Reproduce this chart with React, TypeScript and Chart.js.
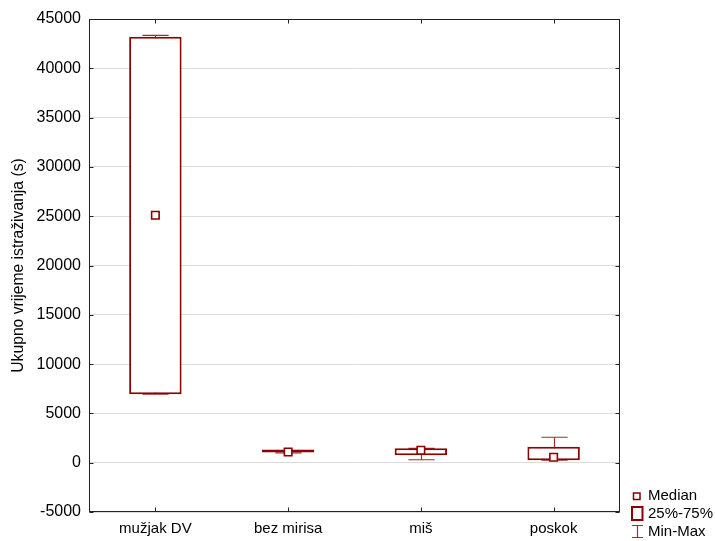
import React, { useEffect, useRef } from 'react';
import { Chart, registerables } from 'chart.js';

Chart.register(...registerables);

const categories = ['mužjak DV', 'bez mirisa', 'miš', 'poskok'];
const minValues = [6950, 1000, 300, 250];
const q1Values = [6950, 1040, 750, 250];
const medianValues = [25100, 1090, 1260, 550];
const q3Values = [43200, 1110, 1460, 1630];
const maxValues = [43330, 1150, 1460, 2580];
const yMin = -5000;
const yMax = 45000;
const yStep = 5000;
const yAxisTitle = 'Ukupno vrijeme istraživanja (s)';
const legendLabels = ['Median', '25%-75%', 'Min-Max'];

const DARK_RED = '#8B0000';
const WHISKER = '#A03030';
const FONT = "'Liberation Sans', Arial, sans-serif";

const whiskerPlugin = {
  id: 'whiskers',
  beforeDatasetsDraw(chart: any) {
    const ctx = chart.ctx;
    const x = chart.scales.x;
    const y = chart.scales.y;
    const barMeta = chart.getDatasetMeta(1);
    ctx.save();
    ctx.strokeStyle = WHISKER;
    ctx.lineWidth = 1.2;
    for (let i = 0; i < categories.length; i++) {
      const cx = Math.round(x.getPixelForValue(i)) + 0.5;
      const bw = barMeta.data[i] ? barMeta.data[i].width : 50;
      const half = bw / 4;
      const yTop = y.getPixelForValue(maxValues[i]);
      const yBot = y.getPixelForValue(minValues[i]);
      ctx.beginPath();
      ctx.moveTo(cx, yTop);
      ctx.lineTo(cx, yBot);
      ctx.moveTo(cx - half, yTop);
      ctx.lineTo(cx + half, yTop);
      ctx.moveTo(cx - half, yBot);
      ctx.lineTo(cx + half, yBot);
      ctx.stroke();
    }
    ctx.restore();
  },
};

const framePlugin = {
  id: 'frame',
  afterDraw(chart: any) {
    const ctx = chart.ctx;
    const { left, right, top, bottom } = chart.chartArea;
    const x = chart.scales.x;
    const y = chart.scales.y;
    ctx.save();
    ctx.strokeStyle = '#222';
    ctx.lineWidth = 1;
    const L = Math.round(left) + 0.5;
    const R = Math.round(right) - 0.5;
    const T = Math.round(top) + 0.5;
    const B = Math.round(bottom) - 0.5;
    ctx.strokeRect(L, T, R - L, B - T);
    ctx.beginPath();
    const tl = 4;
    y.ticks.forEach((t: any) => {
      const py = Math.round(y.getPixelForValue(t.value)) + 0.5;
      ctx.moveTo(L, py);
      ctx.lineTo(L + tl, py);
      ctx.moveTo(R, py);
      ctx.lineTo(R - tl, py);
    });
    for (let i = 0; i < categories.length; i++) {
      const px = Math.round(x.getPixelForValue(i)) + 0.5;
      ctx.moveTo(px, T);
      ctx.lineTo(px, T + tl);
      ctx.moveTo(px, B);
      ctx.lineTo(px, B - tl);
    }
    ctx.stroke();

    // legend
    const lx = Math.round(right) + 11;
    ctx.font = `15px ${FONT}`;
    ctx.textBaseline = 'middle';
    ctx.textAlign = 'left';
    ctx.strokeStyle = DARK_RED;
    ctx.lineWidth = 1.5;
    ctx.fillStyle = '#fff';
    ctx.fillRect(lx + 2.5, 493, 6.5, 6.5);
    ctx.strokeRect(lx + 2.5, 493, 6.5, 6.5);
    ctx.lineWidth = 2;
    ctx.strokeRect(lx + 1, 507, 10.5, 13);
    ctx.strokeStyle = WHISKER;
    ctx.lineWidth = 1.2;
    ctx.beginPath();
    ctx.moveTo(lx + 1, 525.5);
    ctx.lineTo(lx + 12, 525.5);
    ctx.moveTo(lx + 6.5, 525.5);
    ctx.lineTo(lx + 6.5, 537.5);
    ctx.moveTo(lx + 1, 537.5);
    ctx.lineTo(lx + 12, 537.5);
    ctx.stroke();
    ctx.fillStyle = '#000';
    ctx.fillText(legendLabels[0], lx + 17, 496);
    ctx.fillText(legendLabels[1], lx + 17, 513.5);
    ctx.fillText(legendLabels[2], lx + 17, 532);
    ctx.restore();
  },
};

export default function App() {
  const ref = useRef<HTMLCanvasElement | null>(null);
  useEffect(() => {
    if (!ref.current) return;
    Chart.defaults.font.family = FONT;
    Chart.defaults.font.size = 16;
    Chart.defaults.color = '#000';
    const boxData = q1Values.map((q1, i) => [q1, q3Values[i]]);
    const chart = new Chart(ref.current, {
      type: 'bar',
      data: {
        labels: categories,
        datasets: [
          {
            type: 'line',
            label: 'Median',
            data: medianValues,
            showLine: false,
            pointStyle: 'rect',
            pointRadius: 5.3,
            pointBorderWidth: 1.6,
            pointBorderColor: DARK_RED,
            pointBackgroundColor: '#fff',
            order: 0,
          } as any,
          {
            type: 'bar',
            label: '25%-75%',
            data: boxData as any,
            backgroundColor: '#fff',
            borderColor: DARK_RED,
            borderWidth: 2,
            borderSkipped: false,
            minBarLength: 3,
            barPercentage: 0.395,
            categoryPercentage: 1,
            order: 1,
          } as any,
        ],
      },
      options: {
        animation: false,
        responsive: false,
        layout: { padding: { top: 19, right: 95, left: 0, bottom: 0 } },
        plugins: { legend: { display: false }, tooltip: { enabled: false } },
        scales: {
          x: {
            offset: true,
            grid: { display: false, drawTicks: false },
            border: { display: false },
            ticks: { padding: 8, font: { size: 15 }, color: '#000' },
            afterFit: (s: any) => {
              s.height = 29;
            },
          },
          y: {
            min: yMin,
            max: yMax,
            grid: { color: '#dcdcdc', lineWidth: 1, drawTicks: false },
            border: { display: false },
            ticks: {
              stepSize: yStep,
              padding: 8,
              font: { size: 16 },
              color: '#000',
              callback: (v: any) => String(v),
            },
            title: {
              display: true,
              text: yAxisTitle,
              font: { size: 15.7 },
              color: '#000',
              padding: { top: 9, bottom: 0 },
            },
            afterFit: (s: any) => {
              s.width = 89;
            },
          },
        },
      },
      plugins: [whiskerPlugin, framePlugin],
    });
    return () => chart.destroy();
  }, []);
  return (
    <div style={{ position: 'absolute', left: 0, top: 0, width: 715, height: 541 }}>
      <canvas ref={ref} width={715} height={541} />
    </div>
  );
}
